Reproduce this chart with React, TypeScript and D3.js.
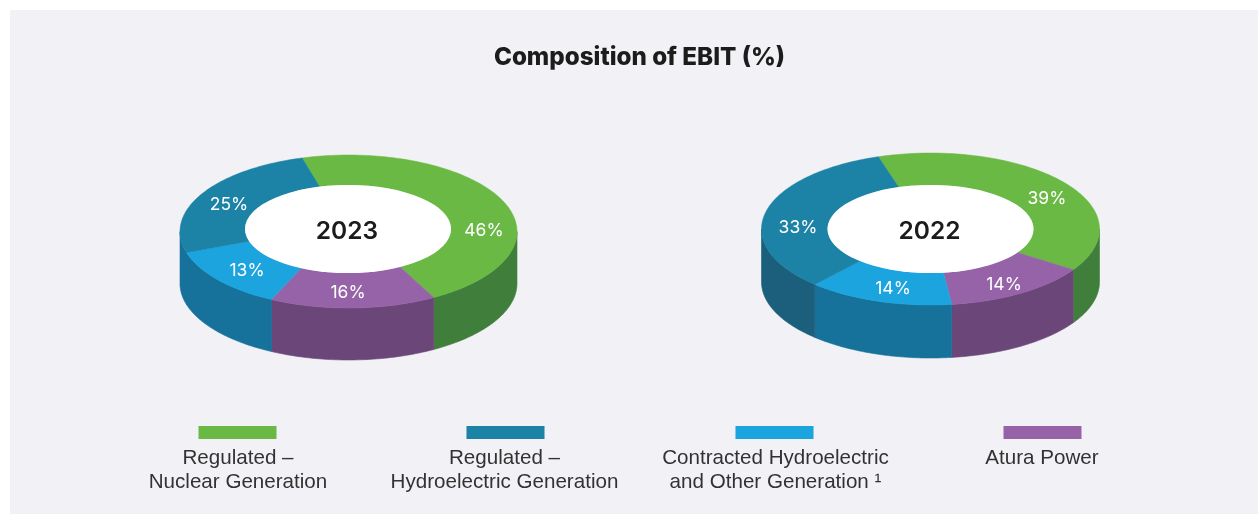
import React from "react";
import * as d3 from "d3";

const categories = ["Regulated – Nuclear Generation", "Regulated – Hydroelectric Generation", "Contracted Hydroelectric and Other Generation", "Atura Power"];
const values2023 = [46, 16, 13, 25];
const values2022 = [39, 14, 14, 33];
const topColors = ["#6ab945", "#9664a8", "#1ba4de", "#1a82a6"];
const sideColors2023 = ["#3f7f3b", "#6b4778", "#14719b", "#14719b"];
const sideColors2022 = ["#3f7f3b", "#6b4778", "#14719b", "#1d5f7c"];
const legendLabels = [["Regulated –", "Nuclear Generation"], ["Regulated –", "Hydroelectric Generation"], ["Contracted Hydroelectric", "and Other Generation ¹"], ["Atura Power"]];
const legendColors = ["#6ab945", "#1a82a6", "#1ba4de", "#9664a8"];
const legendX = [237.5, 505.5, 774.5, 1042.5];
const legendTextX = [238, 504.5, 775.5, 1042];

type Geo = { cx: number; cy: number; rx: number; ry: number; hcx: number; hcy: number; hrx: number; hry: number; depth: number; startDeg: number };

const line = d3.line<[number, number]>().x((d) => d[0]).y((d) => d[1]);

function pts(cx: number, cy: number, rx: number, ry: number, a0: number, a1: number): [number, number][] {
  const n = Math.max(2, Math.ceil(Math.abs(a1 - a0) / 0.02));
  return d3.range(n + 1).map((i) => {
    const a = a0 + ((a1 - a0) * i) / n;
    return [cx + rx * Math.sin(a), cy - ry * Math.cos(a)] as [number, number];
  });
}

function Donut({ values, sides, geo, year, labelPos }: { values: number[]; sides: string[]; geo: Geo; year: string; labelPos: [number, number][] }) {
  const { cx, cy, rx, ry, hcx, hcy, hrx, hry, depth, startDeg } = geo;
  const start = (startDeg * Math.PI) / 180;
  const arcs = d3.pie<number>().sort(null).startAngle(start).endAngle(start + 2 * Math.PI)(values);
  return (
    <g>
      {arcs.map((a, i) => {
        const a0 = Math.max(a.startAngle, Math.PI / 2);
        const a1 = Math.min(a.endAngle, (3 * Math.PI) / 2);
        if (a1 <= a0) return null;
        const top = pts(cx, cy, rx, ry, a0, a1);
        const bottom = pts(cx, cy + depth, rx, ry, a1, a0);
        return <path key={i} d={line([...top, ...bottom]) + "Z"} fill={sides[i]} stroke={sides[i]} strokeWidth={0.6} />;
      })}
      {arcs.map((a, i) => (
        <path key={i} d={line([...pts(cx, cy, rx, ry, a.startAngle, a.endAngle), ...pts(hcx, hcy, hrx, hry, a.endAngle, a.startAngle)]) + "Z"} fill={topColors[i]} stroke={topColors[i]} strokeWidth={0.5} />
      ))}
      <ellipse cx={hcx} cy={hcy} rx={hrx} ry={hry} fill="#ffffff" />
      <text x={hcx - 1} y={hcy + 10} textAnchor="middle" fontFamily="Inter, sans-serif" fontWeight={600} fontSize={24.5} fill="#1a1a1a">{year}</text>
      {arcs.map((a, i) => (
        <text key={i} x={labelPos[i][0]} y={labelPos[i][1]} textAnchor="middle" dominantBaseline="central" fontFamily="Inter, sans-serif" fontSize={17.5} fill="#ffffff">{values[i]}%</text>
      ))}
    </g>
  );
}

export default function App() {
  return (
    <svg width={1258} height={514} style={{ position: "absolute", left: 0, top: 0 }} aria-label={categories.join(", ")}>
      <defs>
        <filter id="soft" x="0" y="0" width="100%" height="100%">
          <feGaussianBlur stdDeviation={0.5} />
        </filter>
      </defs>
      <rect width={1258} height={514} fill="#ffffff" />
      <rect x={10} y={10} width={1248} height={504} fill="#f2f2f6" />
      <g filter="url(#soft)">
        <text x={639.5} y={65} textAnchor="middle" fontFamily="Inter, sans-serif" fontWeight={800} fontSize={24.2} fill="#1a1a1a">Composition of EBIT (%)</text>
        <Donut values={values2023} sides={sideColors2023} year="2023" geo={{ cx: 348.5, cy: 231.5, rx: 168.5, ry: 76.5, hcx: 348, hcy: 229, hrx: 103, hry: 44, depth: 52, startDeg: -16 }}
          labelPos={[[484, 229], [348, 291], [247, 269], [229, 203]]} />
        <Donut values={values2022} sides={sideColors2022} year="2022" geo={{ cx: 930.5, cy: 229, rx: 169, ry: 76, hcx: 930.5, hcy: 229, hrx: 103, hry: 44, depth: 53, startDeg: -18 }}
          labelPos={[[1047, 197], [1004, 283], [893, 287], [798, 226]]} />
        {legendColors.map((c, i) => (
          <g key={i}>
            <rect x={legendX[i] - 39} y={426} width={78} height={13} fill={c} />
            {legendLabels[i].map((t, j) => (
              <text key={j} x={legendTextX[i]} y={464 + j * 24} textAnchor="middle" fontFamily="'Liberation Sans', Arial, sans-serif" fontSize={20.6} fill="#333333">{t}</text>
            ))}
          </g>
        ))}
      </g>
    </svg>
  );
}
